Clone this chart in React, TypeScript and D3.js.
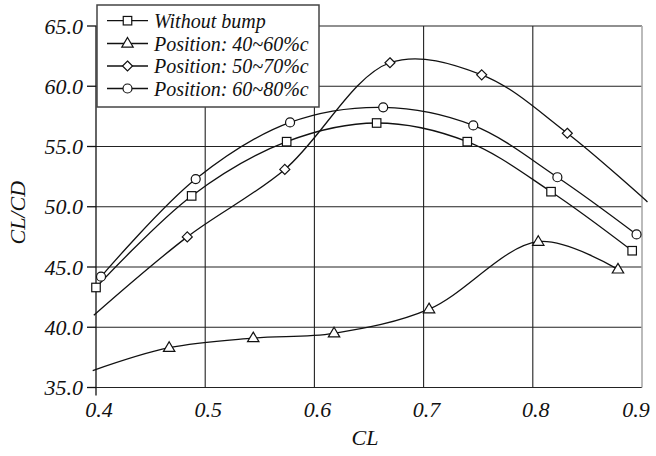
import React from "react";
import * as d3 from "d3";

// ---- data ----
const xTicks = [0.4, 0.5, 0.6, 0.7, 0.8, 0.9];
const yTicks = [35, 40, 45, 50, 55, 60, 65];

const seriesNames = [
  "Without bump",
  "Position: 40~60%c",
  "Position: 50~70%c",
  "Position: 60~80%c",
];
const seriesMarkers = ["square", "triangle", "diamond", "circle"];

const noBumpCL = [0.4, 0.4876, 0.5746, 0.657, 0.74, 0.8167, 0.891];
const noBumpLD = [43.3, 50.9, 55.4, 56.95, 55.4, 51.25, 46.35];
const noBumpMark = [true, true, true, true, true, true, true];

const pos4060CL = [0.397, 0.467, 0.544, 0.618, 0.705, 0.805, 0.878];
const pos4060LD = [36.4, 38.3, 39.1, 39.5, 41.5, 47.1, 44.8];
const pos4060Mark = [false, true, true, true, true, true, true];

const pos5070CL = [0.398, 0.4836, 0.5729, 0.6692, 0.7532, 0.8316, 0.905];
const pos5070LD = [41.0, 47.5, 53.1, 61.95, 60.95, 56.1, 50.4];
const pos5070Mark = [false, true, true, true, true, true, false];

const pos6080CL = [0.4046, 0.4913, 0.5777, 0.663, 0.7455, 0.8225, 0.895];
const pos6080LD = [44.2, 52.3, 57.0, 58.25, 56.75, 52.45, 47.7];
const pos6080Mark = [true, true, true, true, true, true, true];

const seriesCL = [noBumpCL, pos4060CL, pos5070CL, pos6080CL];
const seriesLD = [noBumpLD, pos4060LD, pos5070LD, pos6080LD];
const seriesMark = [noBumpMark, pos4060Mark, pos5070Mark, pos6080Mark];

// ---- layout ----
const W = 656;
const H = 456;
const left = 96;
const right = 642;
const top = 26;
const bottom = 387.5;
const FONT = "'Liberation Serif', 'Times New Roman', serif";

function Marker({ type, x, y }: { type: string; x: number; y: number }) {
  const common = { fill: "white", stroke: "#111", strokeWidth: 1.2 };
  if (type === "square") {
    const s = 8.5;
    return <rect x={x - s / 2} y={y - s / 2} width={s} height={s} {...common} />;
  }
  if (type === "circle") {
    return <circle cx={x} cy={y} r={4.5} {...common} />;
  }
  if (type === "diamond") {
    const r = 5;
    return (
      <path d={`M${x},${y - r}L${x + r},${y}L${x},${y + r}L${x - r},${y}Z`} {...common} />
    );
  }
  const r = 6;
  return (
    <path
      d={`M${x},${y - r}L${x + r * 0.95},${y + r * 0.6}L${x - r * 0.95},${y + r * 0.6}Z`}
      {...common}
    />
  );
}

export default function App() {
  const xs = d3.scaleLinear().domain([0.4, 0.9]).range([left, right]);
  const ys = d3.scaleLinear().domain([35, 65]).range([bottom, top]);
  const line = d3
    .line<[number, number]>()
    .x((d) => xs(d[0]))
    .y((d) => ys(d[1]))
    .curve(d3.curveCatmullRom.alpha(0.5));

  const legendX = 97;
  const legendY = 5;
  const legendW = 222;
  const legendH = 102;
  const rowY = [20.7, 43.5, 66, 88.5];

  return (
    <svg
      width={W}
      height={H}
      style={{ position: "absolute", left: 0, top: 0, background: "white" }}
    >
      <rect x={0} y={0} width={W} height={H} fill="white" />
      {/* horizontal grid */}
      {yTicks.map((t) => (
        <line
          key={"hy" + t}
          x1={left}
          x2={right}
          y1={ys(t)}
          y2={ys(t)}
          stroke="#222"
          strokeWidth={1.1}
        />
      ))}
      {/* vertical grid */}
      {xTicks.slice(1, -1).map((t) => (
        <line
          key={"vx" + t}
          x1={xs(t)}
          x2={xs(t)}
          y1={top}
          y2={bottom}
          stroke="#222"
          strokeWidth={1.1}
        />
      ))}
      {/* right border */}
      <line x1={right} x2={right} y1={top} y2={bottom} stroke="#aaa" strokeWidth={1.6} />
      {/* y axis */}
      <line x1={left} x2={left} y1={top} y2={bottom + 8} stroke="#111" strokeWidth={1.3} />
      {yTicks.map((t) => (
        <line
          key={"yt" + t}
          x1={left - 9}
          x2={left}
          y1={ys(t)}
          y2={ys(t)}
          stroke="#111"
          strokeWidth={1.3}
        />
      ))}
      {yTicks.map((t) => (
        <text
          key={"yl" + t}
          x={83}
          y={ys(t)}
          dy="0.35em"
          textAnchor="end"
          fontFamily={FONT}
          fontStyle="italic"
          fontSize={22}
          fill="#111"
        >
          {t.toFixed(1)}
        </text>
      ))}
      {xTicks.map((t) => (
        <text
          key={"xl" + t}
          x={t === 0.9 ? xs(t) - 6 : xs(t) + 3}
          y={417}
          textAnchor="middle"
          fontFamily={FONT}
          fontStyle="italic"
          fontSize={22}
          fill="#111"
        >
          {t.toFixed(1)}
        </text>
      ))}
      <text
        x={(left + right) / 2 - 4}
        y={445}
        textAnchor="middle"
        fontFamily={FONT}
        fontStyle="italic"
        fontSize={22}
        fill="#111"
      >
        CL
      </text>
      <text
        transform={`translate(25,${(top + bottom) / 2 + 6}) rotate(-90)`}
        textAnchor="middle"
        fontFamily={FONT}
        fontStyle="italic"
        fontSize={22}
        fill="#111"
      >
        CL/CD
      </text>

      {/* series */}
      {seriesCL.map((cls, i) => {
        const pts: [number, number][] = cls.map((c, j) => [c, seriesLD[i][j]]);
        return (
          <g key={"s" + i}>
            <path d={line(pts) || ""} fill="none" stroke="#111" strokeWidth={1.3} />
            {pts.map((p, j) =>
              seriesMark[i][j] ? (
                <Marker key={j} type={seriesMarkers[i]} x={xs(p[0])} y={ys(p[1])} />
              ) : null
            )}
          </g>
        );
      })}

      {/* legend */}
      <rect
        x={legendX}
        y={legendY}
        width={legendW}
        height={legendH}
        fill="white"
        stroke="#444"
        strokeWidth={1.5}
      />
      {seriesNames.map((name, i) => (
        <g key={"lg" + i}>
          <line x1={107} x2={148} y1={rowY[i]} y2={rowY[i]} stroke="#111" strokeWidth={1.3} />
          <Marker type={seriesMarkers[i]} x={127.5} y={rowY[i]} />
          <text
            x={154}
            y={rowY[i]}
            dy="0.35em"
            fontFamily={FONT}
            fontStyle="italic"
            fontSize={20}
            fill="#111"
          >
            {name}
          </text>
        </g>
      ))}
    </svg>
  );
}
